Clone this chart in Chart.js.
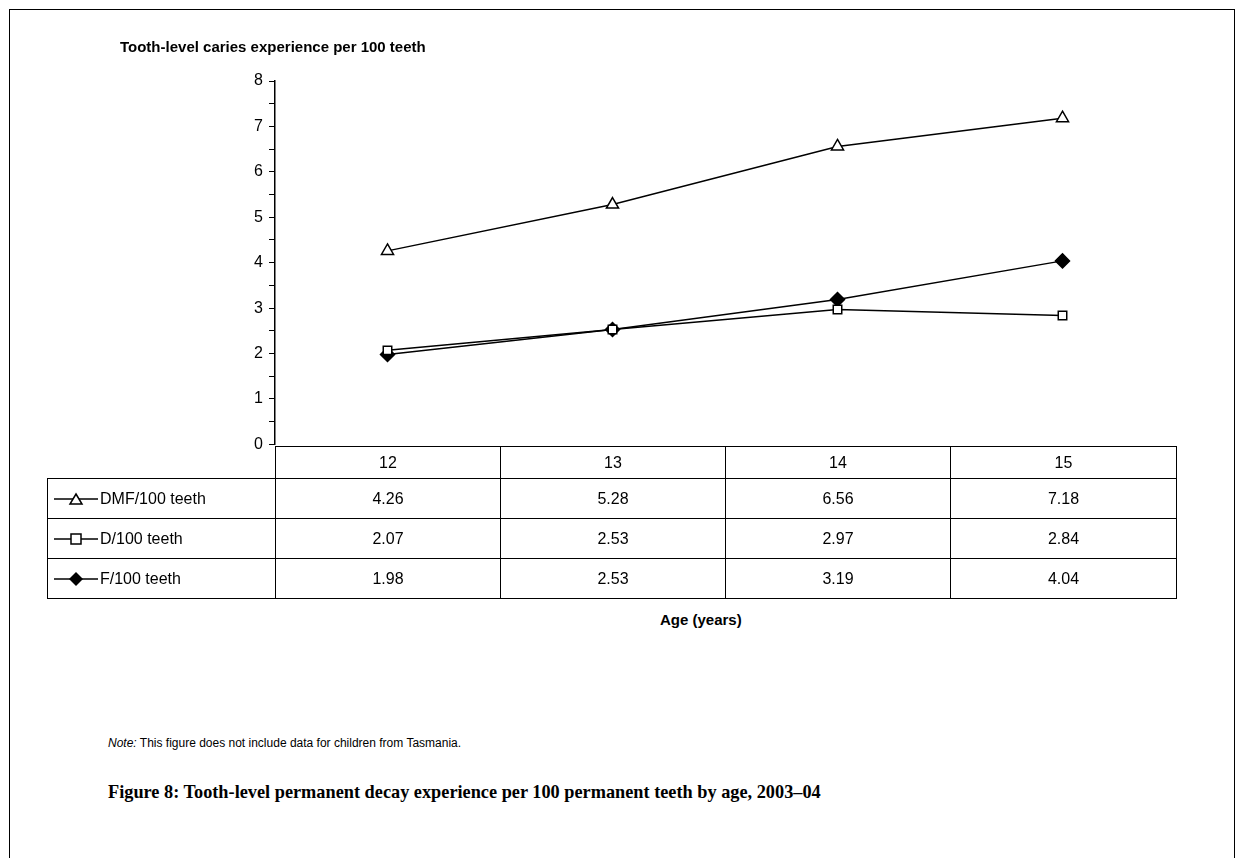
<!DOCTYPE html>
<html><head><meta charset="utf-8">
<script src="https://cdn.jsdelivr.net/npm/chart.js@4"></script>
<style>
body{margin:0;width:1244px;height:858px;position:relative;background:#fff;font-family:"Liberation Sans",Arial,sans-serif;overflow:hidden}
#frame{position:absolute;left:9px;top:9px;width:1224px;height:860px;border:1px solid #000}
#cv{position:absolute;left:0;top:0}
.t{position:absolute;white-space:nowrap;color:#000}
table{position:absolute;left:47px;top:446px;border-collapse:collapse;font-size:16px;table-layout:fixed;width:1129px}
td{border:1px solid #000;text-align:center;padding:0;height:39px}
td.h{height:31px}
td.l{text-align:left;padding-left:6px}
td.e{border:none;border-bottom:1px solid #000}
svg{vertical-align:middle;margin-right:2px}
</style></head><body>
<div id="frame"></div>
<canvas id="cv" width="1244" height="460"></canvas>
<div class="t" style="left:120px;top:38px;font-size:15px;font-weight:bold">Tooth-level caries experience per 100 teeth</div>
<table id="tbl"><colgroup><col style="width:228px"><col style="width:225px"><col style="width:225px"><col style="width:225px"><col style="width:226px"></colgroup></table>
<div class="t" style="left:660px;top:611px;font-size:15px;font-weight:bold">Age (years)</div>
<div class="t" style="left:108px;top:736px;font-size:12px"><i>Note:</i> This figure does not include data for children from Tasmania.</div>
<div class="t" style="left:108px;top:782px;font-size:18.3px;font-weight:bold;font-family:'Liberation Serif',serif">Figure 8: Tooth-level permanent decay experience per 100 permanent teeth by age, 2003–04</div>
<script>
const ages = ['12', '13', '14', '15'];
const seriesNames = ['DMF/100 teeth', 'D/100 teeth', 'F/100 teeth'];
const dmf = [4.26, 5.28, 6.56, 7.18];
const d = [2.07, 2.53, 2.97, 2.84];
const f = [1.98, 2.53, 3.19, 4.04];
const yTicks = [0, 1, 2, 3, 4, 5, 6, 7, 8];

const styles = [
  { pointStyle: 'triangle', fill: '#fff', r: 7 },
  { pointStyle: 'rect', fill: '#fff', r: 6 },
  { pointStyle: 'rectRot', fill: '#000', r: 7 }
];
const values = [dmf, d, f];

new Chart(document.getElementById('cv'), {
  type: 'line',
  data: {
    labels: ages,
    datasets: values.map((v, i) => ({
      label: seriesNames[i], data: v, borderColor: '#000', borderWidth: 1.5,
      pointStyle: styles[i].pointStyle, pointRadius: styles[i].r,
      pointBackgroundColor: styles[i].fill, pointBorderColor: '#000', pointBorderWidth: 1.5
    }))
  },
  options: {
    responsive: false, animation: false,
    layout: { padding: { left: 225, right: 69, top: 81, bottom: 12 } },
    plugins: { legend: { display: false }, tooltip: { enabled: false } },
    scales: {
      x: { offset: true, ticks: { display: false }, grid: { display: false }, border: { display: false },
           afterFit: s => { s.height = 0; } },
      y: { min: 0, max: 8,
           afterBuildTicks: s => { s.ticks = []; for (let k = 0; k <= 16; k++) s.ticks.push({ value: k / 2 }); },
           ticks: { color: '#000', font: { size: 16, family: 'Liberation Sans' }, padding: 6,
                    callback: v => yTicks.includes(v) ? String(v) : '' },
           grid: { drawOnChartArea: false, tickLength: 6, color: '#000' },
           border: { color: '#000', width: 1.5 },
           afterFit: s => { s.width = 50; } }
    }
  }
});

// data table under the axis
const tbl = document.getElementById('tbl');
let html = '<tr><td class="l e h"></td>' + ages.map(a => '<td class="h">' + a + '</td>').join('') + '</tr>';
const marks = [
  '<polygon points="22,3 28,13 16,13" fill="#fff" stroke="#000" stroke-width="1.5"/>',
  '<rect x="17" y="3" width="10" height="10" fill="#fff" stroke="#000" stroke-width="1.5"/>',
  '<polygon points="22,1 29,8 22,15 15,8" fill="#000"/>'
];
values.forEach((v, i) => {
  html += '<tr><td class="l"><svg width="44" height="16"><line x1="0" y1="8" x2="44" y2="8" stroke="#000" stroke-width="1.5"/>' +
    marks[i] + '</svg>' + seriesNames[i] + '</td>' + v.map(x => '<td>' + x.toFixed(2) + '</td>').join('') + '</tr>';
});
tbl.insertAdjacentHTML('beforeend', html);
</script>
</body></html>
